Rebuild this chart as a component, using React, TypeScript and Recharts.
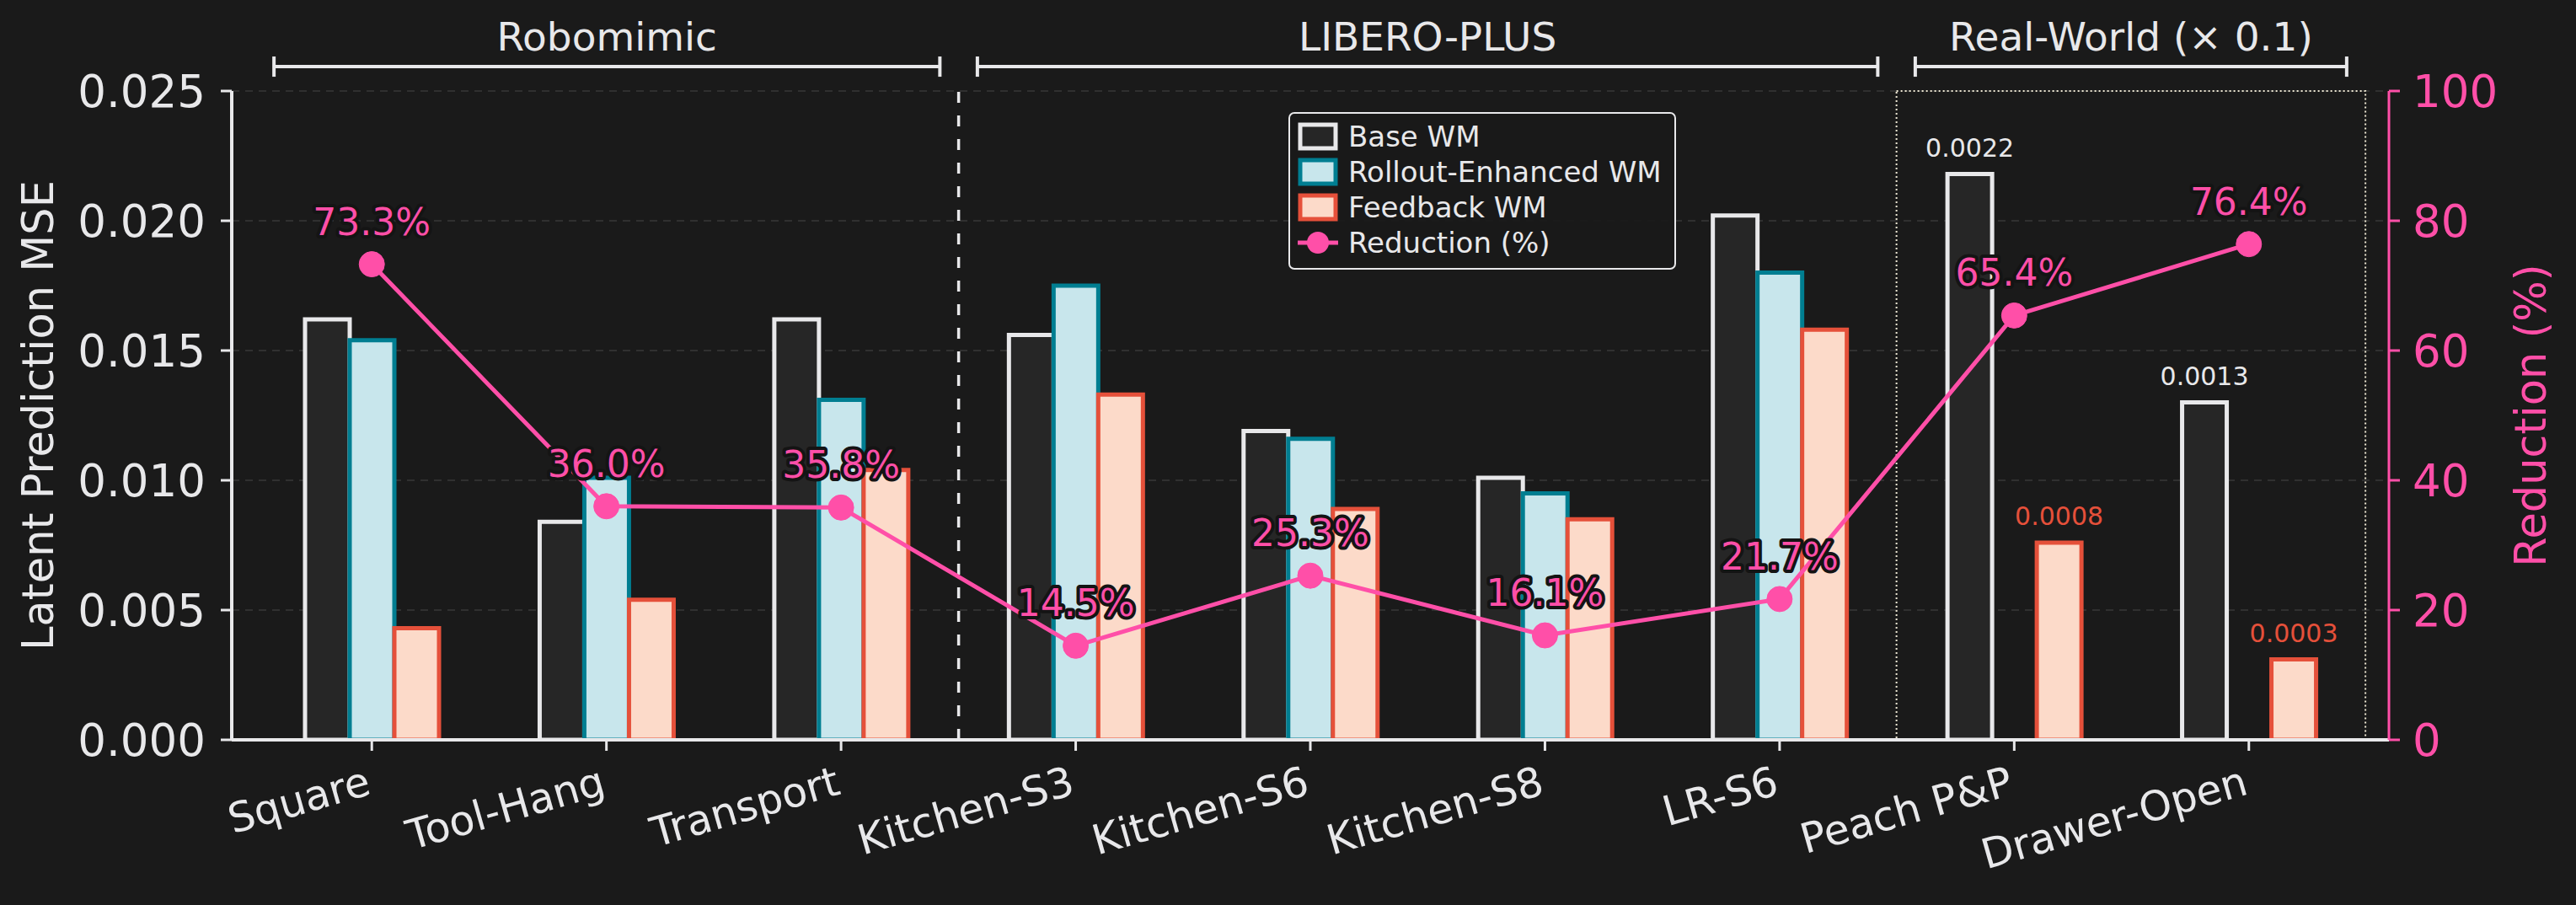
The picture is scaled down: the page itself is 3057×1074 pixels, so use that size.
import React from 'react';
import {
  ComposedChart,
  Bar,
  Line,
  XAxis,
  YAxis,
  CartesianGrid,
  Legend,
  ReferenceLine,
  ReferenceArea,
  LabelList,
} from 'recharts';

const categories = ['Square', 'Tool-Hang', 'Transport', 'Kitchen-S3', 'Kitchen-S6', 'Kitchen-S8', 'LR-S6', 'Peach P&P', 'Drawer-Open'];
const suites = ['Robomimic', 'Robomimic', 'Robomimic', 'LIBERO-PLUS', 'LIBERO-PLUS', 'LIBERO-PLUS', 'LIBERO-PLUS', 'Real-World', 'Real-World'];
const baseWM = [0.0162, 0.0084, 0.0162, 0.0156, 0.0119, 0.0101, 0.0202, 0.00218, 0.0013];
const rolloutWM = [0.0154, 0.0101, 0.0131, 0.0175, 0.0116, 0.0095, 0.018, null, null];
const feedbackWM = [0.0043, 0.0054, 0.0104, 0.0133, 0.0089, 0.0085, 0.0158, 0.00076, 0.00031];
const reductionPct = [73.3, 36.0, 35.8, 14.5, 25.3, 16.1, 21.7, 65.4, 76.4];
const mseTicks = [0, 0.005, 0.01, 0.015, 0.02, 0.025];
const pctTicks = [0, 20, 40, 60, 80, 100];

// suite brackets over the plot (category index range)
const suiteSpans = [
  { label: 'Robomimic', from: 0, to: 2 },
  { label: 'LIBERO-PLUS', from: 3, to: 6 },
  { label: 'Real-World (× 0.1)', from: 7, to: 8 },
];

// real-world errors are an order of magnitude smaller, drawn x10
const REAL_WORLD_SCALE = 10;

const BG = '#1a1a1a';
const INK = '#e8e8ea';
const PINK = '#ff4fa8';
const BASE_FILL = '#262626';
const ROLLOUT_FILL = '#c8e6ec';
const ROLLOUT_EDGE = '#007e91';
const FEEDBACK_FILL = '#fcdac9';
const FEEDBACK_EDGE = '#e5503a';
const FONT = 'DejaVu Sans';

// bracket heights, in left-axis units (just above the 0.025 top)
const BRACKET_Y = 0.02594;
const CAP_LO = 0.02555;
const CAP_HI = 0.02633;

const data = categories.map((name, i) => {
  const s = suites[i] === 'Real-World' ? REAL_WORLD_SCALE : 1;
  const real = s !== 1;
  const r = rolloutWM[i];
  return {
    name,
    pos: i,
    base: baseWM[i] * s,
    rollout: r == null ? null : r * s,
    feedback: feedbackWM[i] * s,
    reduction: reductionPct[i],
    baseLabel: real ? baseWM[i].toFixed(4) : undefined,
    feedbackLabel: real ? feedbackWM[i].toFixed(4) : undefined,
  };
});

const legendItems = [
  { name: 'Base WM', fill: BASE_FILL, edge: INK },
  { name: 'Rollout-Enhanced WM', fill: ROLLOUT_FILL, edge: ROLLOUT_EDGE },
  { name: 'Feedback WM', fill: FEEDBACK_FILL, edge: FEEDBACK_EDGE },
  { name: 'Reduction (%)', line: true },
];

function XTick(props: any) {
  const { x, y, payload } = props;
  const ax = x + 1;
  const ay = y + 49;
  return (
    <text
      x={ax}
      y={ay}
      transform={`rotate(-16, ${ax}, ${ay})`}
      textAnchor="end"
      fill={INK}
      fontSize={49}
      fontFamily={FONT}
    >
      {payload.value}
    </text>
  );
}

const barValueLabel = (color: string) => (props: any) => {
  const { value } = props;
  if (value == null || value === '') return null;
  const vb = props.viewBox || props;
  return (
    <text
      x={vb.x + (vb.width || 0) / 2}
      y={vb.y - 21}
      textAnchor="middle"
      fill={color}
      fontSize={30}
      fontFamily={FONT}
    >
      {value}
    </text>
  );
};

function reductionLabel(props: any) {
  const vb = props.viewBox || props;
  const x = vb.x + (vb.width || 0) / 2;
  return (
    <text
      x={x}
      y={vb.y - 35}
      textAnchor="middle"
      fill={PINK}
      fontSize={44}
      fontFamily={FONT}
      stroke="#141414"
      strokeWidth={8}
      strokeLinejoin="round"
      style={{ paintOrder: 'stroke' }}
    >
      {Number(props.value).toFixed(1)}%
    </text>
  );
}

function LegendBox() {
  return (
    <div
      style={{
        boxSizing: 'border-box',
        width: 460,
        height: 187,
        border: `2px solid ${INK}`,
        borderRadius: 7,
        background: 'rgba(26,26,26,0.9)',
        padding: '6px 0 0 9px',
        fontFamily: FONT,
        fontSize: 34,
        color: INK,
      }}
    >
      {legendItems.map((it) => (
        <div key={it.name} style={{ display: 'flex', alignItems: 'center', height: 42 }}>
          <svg width={48} height={34} style={{ marginRight: 12, flex: 'none' }}>
            {it.line ? (
              <g>
                <line x1={0} y1={17} x2={48} y2={17} stroke={PINK} strokeWidth={5} />
                <circle cx={24} cy={17} r={13} fill={PINK} />
              </g>
            ) : (
              <rect x={3} y={3} width={42} height={28} fill={it.fill} stroke={it.edge} strokeWidth={5} />
            )}
          </svg>
          <span style={{ whiteSpace: 'nowrap', lineHeight: '42px' }}>{it.name}</span>
        </div>
      ))}
    </div>
  );
}

export default function App() {
  return (
    <div
      style={{
        position: 'absolute',
        left: 0,
        top: 0,
        width: 3057,
        height: 1074,
        background: BG,
        fontFamily: FONT,
      }}
    >
      <ComposedChart
        width={3057}
        height={1074}
        data={data}
        margin={{ top: 108, right: 12, bottom: 46, left: 15 }}
        barGap={0}
        barSize={53}
      >
        <CartesianGrid vertical={false} yAxisId="left" stroke="#303030" strokeDasharray="9 7" strokeWidth={2} />
        <XAxis
          dataKey="name"
          interval={0}
          padding={{ left: 27, right: 27 }}
          height={150}
          tick={<XTick />}
          tickSize={13}
          tickMargin={2}
          axisLine={{ stroke: INK, strokeWidth: 4 }}
          tickLine={{ stroke: INK, strokeWidth: 3 }}
        />
        {/* hidden numeric twin of the category axis, for group brackets and separators */}
        <XAxis
          xAxisId="num"
          dataKey="pos"
          type="number"
          domain={[0, 8]}
          padding={{ left: 167, right: 167 }}
          allowDataOverflow
          hide
        />
        <YAxis
          yAxisId="left"
          domain={[0, 0.025]}
          ticks={mseTicks}
          allowDataOverflow
          width={260}
          tickFormatter={(v: number) => v.toFixed(3)}
          tick={{ fill: INK, fontSize: 53, fontFamily: FONT }}
          tickSize={13}
          tickMargin={18}
          axisLine={{ stroke: INK, strokeWidth: 4 }}
          tickLine={{ stroke: INK, strokeWidth: 3 }}
          label={{
            value: 'Latent Prediction MSE',
            angle: -90,
            position: 'insideLeft',
            offset: 30,
            fill: INK,
            fontSize: 51,
            fontFamily: FONT,
            style: { textAnchor: 'middle' },
          }}
        />
        <YAxis
          yAxisId="right"
          orientation="right"
          domain={[0, 100]}
          ticks={pctTicks}
          allowDataOverflow
          width={210}
          tick={{ fill: PINK, fontSize: 53, fontFamily: FONT }}
          tickSize={13}
          tickMargin={15}
          axisLine={{ stroke: PINK, strokeWidth: 3 }}
          tickLine={{ stroke: PINK, strokeWidth: 3 }}
          label={{
            value: 'Reduction (%)',
            angle: -90,
            position: 'insideRight',
            offset: 42,
            fill: PINK,
            fontSize: 51,
            fontFamily: FONT,
            style: { textAnchor: 'middle' },
          }}
        />

        <ReferenceLine
          xAxisId="num"
          yAxisId="left"
          x={2.5}
          ifOverflow="visible"
          stroke={INK}
          strokeWidth={3.5}
          strokeDasharray="13 15"
        />
        <ReferenceArea
          xAxisId="num"
          yAxisId="left"
          x1={6.5}
          x2={8.5}
          y1={0}
          y2={0.025}
          ifOverflow="visible"
          fill="none"
          fillOpacity={0}
          stroke="#ece6d2"
          strokeWidth={2}
          strokeDasharray="2 3"
        />

        <Bar yAxisId="left" dataKey="base" name="Base WM" fill={BASE_FILL} stroke={INK} strokeWidth={5} isAnimationActive={false}>
          <LabelList dataKey="baseLabel" content={barValueLabel(INK)} />
        </Bar>
        <Bar yAxisId="left" dataKey="rollout" name="Rollout-Enhanced WM" fill={ROLLOUT_FILL} stroke={ROLLOUT_EDGE} strokeWidth={5} isAnimationActive={false} />
        <Bar yAxisId="left" dataKey="feedback" name="Feedback WM" fill={FEEDBACK_FILL} stroke={FEEDBACK_EDGE} strokeWidth={5} isAnimationActive={false}>
          <LabelList dataKey="feedbackLabel" content={barValueLabel(FEEDBACK_EDGE)} />
        </Bar>
        <Line
          yAxisId="right"
          dataKey="reduction"
          name="Reduction (%)"
          type="linear"
          stroke={PINK}
          strokeWidth={5}
          dot={{ r: 15, fill: PINK, stroke: PINK, strokeWidth: 1 }}
          activeDot={false}
          isAnimationActive={false}
        >
          <LabelList dataKey="reduction" content={reductionLabel} />
        </Line>

        {suiteSpans.flatMap((s) => {
          const x1 = s.from - 0.42;
          const x2 = s.to + 0.42;
          return [
            <ReferenceLine
              key={`${s.label}-h`}
              xAxisId="num"
              yAxisId="left"
              ifOverflow="visible"
              segment={[{ x: x1, y: BRACKET_Y }, { x: x2, y: BRACKET_Y }]}
              stroke={INK}
              strokeWidth={4}
              label={{ value: s.label, position: 'top', offset: 19, fill: INK, fontSize: 47, fontFamily: FONT }}
            />,
            <ReferenceLine
              key={`${s.label}-l`}
              xAxisId="num"
              yAxisId="left"
              ifOverflow="visible"
              segment={[{ x: x1, y: CAP_LO }, { x: x1, y: CAP_HI }]}
              stroke={INK}
              strokeWidth={4}
            />,
            <ReferenceLine
              key={`${s.label}-r`}
              xAxisId="num"
              yAxisId="left"
              ifOverflow="visible"
              segment={[{ x: x2, y: CAP_LO }, { x: x2, y: CAP_HI }]}
              stroke={INK}
              strokeWidth={4}
            />,
          ];
        })}

        <Legend
          layout="horizontal"
          verticalAlign="middle"
          align="center"
          content={() => <LegendBox />}
          wrapperStyle={{ left: 1529, top: 133, width: 460, height: 187 }}
        />
      </ComposedChart>
    </div>
  );
}
